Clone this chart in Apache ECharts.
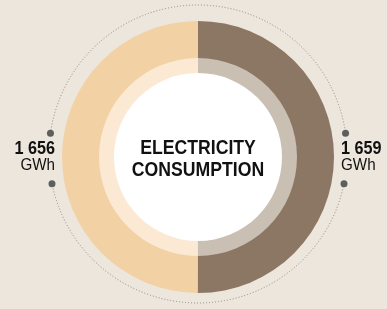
<!DOCTYPE html>
<html>
<head>
<meta charset="utf-8">
<script src="https://cdn.jsdelivr.net/npm/echarts@6/dist/echarts.min.js"></script>
<style>
    html, body { margin: 0; padding: 0; background: #ede6dc; }
    #main { width: 387px; height: 309px; }
</style>
</head>
<body>
<div id="main"></div>
<script>
    // data
    var names = ['Right', 'Left'];
    var values = [1659, 1656];
    var units = 'GWh';
    var centerLines = ['ELECTRICITY', 'CONSUMPTION'];

    var outerColors = ['#8b7763', '#f2d1a5'];
    var innerColors = ['#c9bfb3', '#fbe9d4'];

    function fmt(v) {
        return String(v).replace(/\B(?=(\d{3})+(?!\d))/g, ' ');
    }

    var cx = 198, cy = 157;
    var dcx = 198, dcy = 154, dr = 149;
    function deg(a) { return a * Math.PI / 180; }
    function pt(a) { return [dcx + dr * Math.cos(deg(a)), dcy + dr * Math.sin(deg(a))]; }

    var gapAngles = [-8, 11.5, 168.5, 188];
    var dots = gapAngles.map(function (a) {
        var p = pt(a);
        return { type: 'circle', shape: { cx: p[0], cy: p[1], r: 3.5 }, style: { fill: '#5e5e5e' }, silent: true };
    });

    var myChart = echarts.init(document.getElementById('main'));
    var option = {
        backgroundColor: '#ede6dc',
        animation: false,
        graphic: [
            {
                type: 'arc',
                shape: { cx: dcx, cy: dcy, r: dr, startAngle: deg(11.5), endAngle: deg(168.5), clockwise: true },
                style: { stroke: '#8a8a8a', lineWidth: 1, lineDash: [1, 2], fill: null },
                silent: true
            },
            {
                type: 'arc',
                shape: { cx: dcx, cy: dcy, r: dr, startAngle: deg(188), endAngle: deg(352), clockwise: true },
                style: { stroke: '#8a8a8a', lineWidth: 1, lineDash: [1, 2], fill: null },
                silent: true
            },
            {
                type: 'circle',
                shape: { cx: cx, cy: cy, r: 84 },
                style: { fill: '#ffffff' },
                silent: true,
                z: 10
            },
            {
                type: 'text',
                x: cx, y: 159.5,
                scaleX: 0.84,
                style: {
                    text: centerLines.join('\n'),
                    fill: '#111',
                    font: 'bold 21px "Liberation Sans", sans-serif',
                    align: 'center',
                    verticalAlign: 'middle',
                    lineHeight: 22
                },
                silent: true,
                z: 11
            },
            {
                type: 'text',
                x: 55, y: 140,
                scaleX: 0.9,
                style: { text: fmt(values[1]), fill: '#111', font: 'bold 18px "Liberation Sans", sans-serif', align: 'right', verticalAlign: 'top' },
                silent: true
            },
            {
                type: 'text',
                x: 55, y: 158,
                scaleX: 0.95,
                style: { text: units, fill: '#111', font: '16px "Liberation Sans", sans-serif', align: 'right', verticalAlign: 'top' },
                silent: true
            },
            {
                type: 'text',
                x: 341, y: 140,
                scaleX: 0.9,
                style: { text: fmt(values[0]), fill: '#111', font: 'bold 18px "Liberation Sans", sans-serif', align: 'left', verticalAlign: 'top' },
                silent: true
            },
            {
                type: 'text',
                x: 341, y: 158,
                scaleX: 0.95,
                style: { text: units, fill: '#111', font: '16px "Liberation Sans", sans-serif', align: 'left', verticalAlign: 'top' },
                silent: true
            }
        ].concat(dots),
        series: [
            {
                type: 'pie',
                center: [cx, cy],
                radius: [98, 136],
                startAngle: 90,
                clockwise: true,
                silent: true,
                label: { show: false },
                labelLine: { show: false },
                data: names.map(function (n, i) {
                    return { name: n, value: values[i], itemStyle: { color: outerColors[i] } };
                })
            },
            {
                type: 'pie',
                center: [cx, cy],
                radius: [83, 99],
                startAngle: 90,
                clockwise: true,
                silent: true,
                label: { show: false },
                labelLine: { show: false },
                data: names.map(function (n, i) {
                    return { name: n, value: values[i], itemStyle: { color: innerColors[i] } };
                })
            }
        ]
    };
    myChart.setOption(option);
</script>
</body>
</html>
